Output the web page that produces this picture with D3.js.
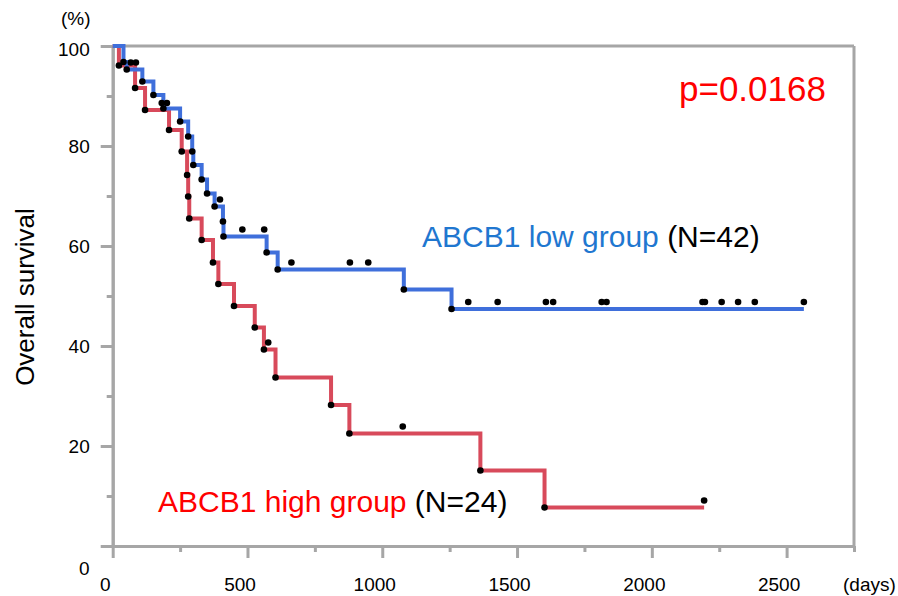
<!DOCTYPE html>
<html lang="en">
<head>
<meta charset="UTF-8">
<title>Overall survival</title>
<script type="text/javascript" src="https://cdnjs.cloudflare.com/ajax/libs/d3/7.8.5/d3.min.js"></script>
<style>
    body{
        margin: 0;
        background: #fff;
    }
    svg{
        display: block;
        font-family: "Liberation Sans", Arial, sans-serif;
    }
    .axis path,
    .axis line,
    .frame{
        fill: none;
        stroke: #a6a6a6;
        stroke-width: 3;
    }
    .axis text{
        font-size: 19px;
        fill: #000;
    }
    .km{
        fill: none;
        stroke-width: 4;
    }
</style>
</head>
<body>
<div id="chart"></div>
<script type="text/javascript">
    // ABCB1 low group (N=42): days of death and survival (%) right after
    var lowDays = [40, 52, 110, 151, 188, 250, 280, 295, 299, 330, 350, 378, 409, 411, 571, 612, 1080, 1257];
    var lowSurv = [96.8, 95.3, 92.9, 90.2, 87.5, 84.9, 81.9, 78.9, 76.2, 73.3, 70.5, 67.9, 64.9, 61.9, 58.7, 55.3, 51.3, 47.4];
    var lowCensor = [67, 86, 398, 481, 562, 663, 880, 948, 1319, 1428, 1607, 1634, 1814, 1832, 2188, 2197, 2259, 2320, 2382, 2564];
    var lowEnd = 2564;

    // ABCB1 high group (N=24)
    var highDays = [23, 83, 120, 209, 256, 276, 280, 284, 330, 372, 392, 450, 527, 561, 604, 810, 878, 1364, 1602];
    var highSurv = [96.1, 91.6, 87.2, 83.2, 78.9, 74.2, 69.9, 65.5, 61.2, 56.7, 52.4, 48.0, 43.7, 39.3, 33.7, 28.2, 22.5, 15.1, 7.7];
    var highCensor = [182, 201, 577, 1076, 2194];
    var highEnd = 2194;

    var xMajor = [0, 500, 1000, 1500, 2000, 2500];
    var xMinor = [250, 750, 1250, 1750, 2250, 2750];
    var yMajor = [0, 20, 40, 60, 80, 100];
    var yMinor = [10, 30, 50, 70, 90];

    var width = 898, height = 596;
    var svg = d3.select("#chart").append("svg")
            .attr("width", width)
            .attr("height", height);

    var x = d3.scaleLinear().domain([0, 2750]).range([112.7, 854]);
    var y = d3.scaleLinear().domain([0, 100]).range([546, 46]);

    // axes
    var xAxis = svg.append("g").attr("class", "axis")
            .attr("transform", "translate(0," + y(0) + ")")
            .call(d3.axisBottom(x).tickValues(xMajor).tickSize(12).tickSizeOuter(0).tickPadding(20)
                    .tickFormat(d3.format("d")));
    xAxis.selectAll("text").attr("x", -8);
    svg.append("g").attr("class", "axis")
            .attr("transform", "translate(0," + y(0) + ")")
            .call(d3.axisBottom(x).tickValues(xMinor).tickSize(6).tickSizeOuter(0).tickFormat(""));

    var yAxis = svg.append("g").attr("class", "axis")
            .attr("transform", "translate(" + x(0) + ",0)")
            .call(d3.axisLeft(y).tickValues(yMajor).tickSize(12).tickSizeOuter(0).tickPadding(11)
                    .tickFormat(function(d){ return d == 0 ? "" : d; }));
    yAxis.selectAll("text").filter(function(d){ return d == 100; }).attr("y", 3);
    svg.append("g").attr("class", "axis")
            .attr("transform", "translate(" + x(0) + ",0)")
            .call(d3.axisLeft(y).tickValues(yMinor).tickSize(6).tickSizeOuter(0).tickFormat(""));

    svg.append("line").attr("class", "frame")
            .attr("x1", x(0)).attr("x2", x(2750))
            .attr("y1", y(100)).attr("y2", y(100));
    svg.append("line").attr("class", "frame")
            .attr("x1", x(2750)).attr("x2", x(2750))
            .attr("y1", y(100)).attr("y2", y(0));

    svg.append("text").attr("x", x(0) - 23).attr("y", y(0) + 29)
            .attr("text-anchor", "end").attr("font-size", 19).text("0");
    svg.append("text").attr("x", 61).attr("y", 25)
            .attr("font-size", 19).text("(%)");
    svg.append("text").attr("x", 843).attr("y", 591)
            .attr("font-size", 19).text("(days)");
    svg.append("text")
            .attr("transform", "translate(34,297) rotate(-90)")
            .attr("text-anchor", "middle").attr("font-size", 26)
            .text("Overall survival");

    // survival curves
    function steps(days, surv, end){
        var pts = [[0, 100]];
        days.forEach(function(d, i){ pts.push([d, surv[i]]); });
        pts.push([end, surv[surv.length - 1]]);
        return pts;
    }
    function survAt(days, surv, t){
        var i = d3.bisectRight(days, t);
        return i == 0 ? 100 : surv[i - 1];
    }
    var line = d3.line()
            .x(function(d){ return x(d[0]); })
            .y(function(d){ return y(d[1]); })
            .curve(d3.curveStepAfter);

    var groups = [
        {days: highDays, surv: highSurv, censor: highCensor, end: highEnd, color: "#d84a5b"},
        {days: lowDays, surv: lowSurv, censor: lowCensor, end: lowEnd, color: "#3f6fdb"}
    ];
    groups.forEach(function(g){
        svg.append("path").attr("class", "km")
                .attr("stroke", g.color)
                .attr("d", line(steps(g.days, g.surv, g.end)));
    });
    groups.forEach(function(g){
        svg.append("g").selectAll("circle")
                .data(g.days)
                .enter()
                .append("circle")
                .attr("cx", function(d){ return x(d); })
                .attr("cy", function(d, i){ return y(g.surv[i]); })
                .attr("r", 3.3)
                .attr("fill", "#000");
        svg.append("g").selectAll("circle")
                .data(g.censor)
                .enter()
                .append("circle")
                .attr("cx", function(d){ return x(d); })
                .attr("cy", function(d){ return y(survAt(g.days, g.surv, d)) - 7; })
                .attr("r", 3.3)
                .attr("fill", "#000");
    });

    // labels
    svg.append("text").attr("x", 679).attr("y", 101)
            .attr("font-size", 35).attr("fill", "#ff0000")
            .text("p=0.0168");

    var lowLabel = svg.append("text").attr("x", 422).attr("y", 247).attr("font-size", 30);
    lowLabel.append("tspan").attr("fill", "#1f77d0").text("ABCB1 low group");
    lowLabel.append("tspan").attr("fill", "#000").text(" (N=42)");

    var highLabel = svg.append("text").attr("x", 158).attr("y", 512).attr("font-size", 30);
    highLabel.append("tspan").attr("fill", "#ff0000").text("ABCB1 high group");
    highLabel.append("tspan").attr("fill", "#000").text(" (N=24)");
</script>
</body>
</html>
